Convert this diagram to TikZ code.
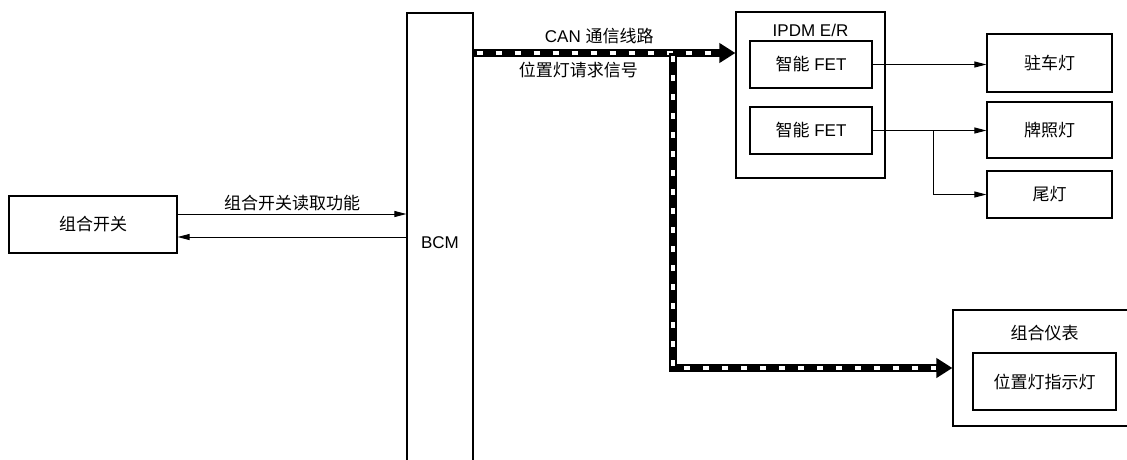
\documentclass[tikz,border=0pt]{standalone}
\usepackage{fontspec}
\setmainfont{Liberation Sans}
\newfontfamily\cjk{Noto Sans CJK SC}
\usetikzlibrary{arrows.meta, positioning}
\tikzstyle{block} = [rectangle, draw, line width=1.2pt, inner sep=0pt, align=center]
\tikzstyle{txt} = [inner sep=1pt]
\tikzstyle{sig} = [line width=0.9pt, -{Triangle[length=12pt,width=6pt]}]
\tikzstyle{canbus} = [line width=7.5pt, -{Triangle[length=16pt,width=19pt]},
  postaction={draw=white, line width=4.2pt, arrows=-, dash pattern=on 6pt off 13pt, dash phase=-3pt, shorten >=16pt}]

\begin{document}
\begin{tikzpicture}[x=1pt, y=-1pt, font=\fontsize{17}{20}\selectfont]
      \useasboundingbox (0,0) rectangle (1127,459);
      % left side
      \node (sw) [block, minimum width=168pt, minimum height=57pt] at (93,224.5) {\cjk 组合开关};
      \node (bcm) [block, minimum width=66pt, minimum height=460pt] at (440,243) {BCM};
      % IPDM E/R
      \node (ipdm) [block, minimum width=149pt, minimum height=166pt] at (810.5,95) {};
      \node (ipdmlbl) [txt] at (810.5,30) {IPDM E/R};
      \node (fet1) [block, minimum width=122pt, minimum height=47pt] at (811,64.5) {{\cjk 智能} FET};
      \node (fet2) [block, minimum width=122pt, minimum height=47pt] at (811,130.5) {{\cjk 智能} FET};
      % lamps
      \node (park) [block, minimum width=125pt, minimum height=58pt] at (1049.5,63) {\cjk 驻车灯};
      \node (plate) [block, minimum width=125pt, minimum height=56pt] at (1049.5,130) {\cjk 牌照灯};
      \node (tail) [block, minimum width=125pt, minimum height=47pt] at (1049.5,194.5) {\cjk 尾灯};
      % combination meter
      \node (meter) [block, minimum width=187pt, minimum height=116pt] at (1046.5,368) {};
      \node (meterlbl) [txt] at (1044.5,333) {\cjk 组合仪表};
      \node (ind) [block, minimum width=143pt, minimum height=57pt] at (1044.5,381.5) {\cjk 位置灯指示灯};
      \coordinate (split) at (673,53);
      \coordinate (tap) at (933,131);
      % connectors
      \draw [sig] ([yshift=10.5pt]sw.east) -- ([yshift=10.5pt]sw.east -| bcm.west)
        node (swread) [midway, above, yshift=2pt, txt] {\cjk 组合开关读取功能};
      \draw [sig] ([yshift=-12.5pt]sw.east -| bcm.west) -- ([yshift=-12.5pt]sw.east);
      \draw [canbus] (bcm.east |- split) -- (ipdm.west |- split)
        node (canlbl) [pos=0.48, above, yshift=4pt, txt] {CAN {\cjk 通信线路}}
        node (reqlbl) [pos=0.40, below, yshift=-4pt, txt] {\cjk 位置灯请求信号};
      \draw [canbus] (split) |- (meter.west);
      \draw [sig] (fet1.east) -- (park.west |- fet1.east);
      \draw [sig] (fet2.east) -- (plate.west |- fet2.east);
      \draw [sig] (tap) |- (tail.west);
    \end{tikzpicture}
\end{document}
